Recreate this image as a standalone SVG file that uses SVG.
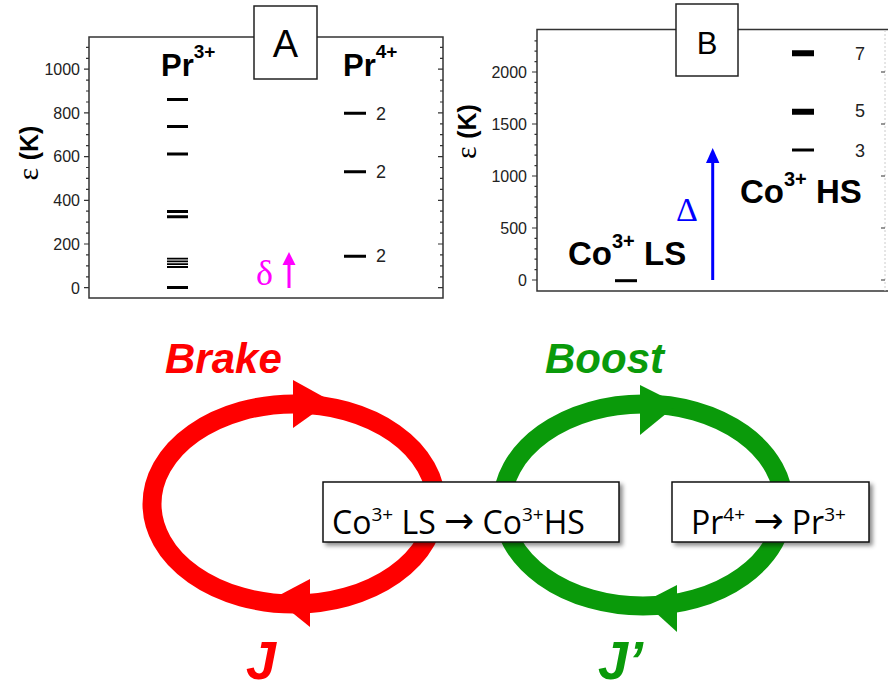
<svg xmlns="http://www.w3.org/2000/svg" width="888" height="691" viewBox="0 0 888 691">
<defs>
<style>
.ax{fill:none;stroke:#333;stroke-width:1.5}
.tk{fill:none;stroke:#333;stroke-width:1.2}
.tl{font-family:"Liberation Sans",Arial,sans-serif;font-size:16px;fill:#222;text-anchor:end}
.lv{stroke:#000;stroke-width:3}
.lab{font-family:"Liberation Sans",Arial,sans-serif;font-weight:bold;fill:#000}
.deg{font-family:"Liberation Sans",Arial,sans-serif;font-size:18px;fill:#222}
.box{fill:#fff;stroke:#222;stroke-width:1.5}
.nb{fill:#fff;stroke:#111;stroke-width:1.5}
.bt{font-family:"Open Sans","Noto Sans",sans-serif;font-size:32px;fill:#000}
.ar{font-family:"DejaVu Sans",sans-serif;font-size:36px}
.big{font-family:"Liberation Sans",Arial,sans-serif;font-weight:bold;font-style:italic}
</style>
<filter id="sh" x="-10%" y="-20%" width="130%" height="160%">
<feDropShadow dx="3" dy="3" stdDeviation="2" flood-color="#000" flood-opacity="0.45"/>
</filter>
</defs>
<rect width="888" height="691" fill="#fff"/>

<!-- Panel A -->
<g id="panelA">
<rect class="ax" x="89" y="37" width="354" height="261"/>
<path class="tk" d="M84 287.7H89M84 244H89M84 200.3H89M84 156.6H89M84 112.9H89M84 69.2H89
M86 276.8H89M86 265.9H89M86 254.9H89M86 233.1H89M86 222.2H89M86 211.2H89M86 189.4H89M86 178.4H89M86 167.5H89M86 145.7H89M86 134.7H89M86 123.8H89M86 102H89M86 91H89M86 80.1H89M86 58.3H89M86 47.3H89"/>
<path class="tk" d="M438 287.7H443M438 244H443M438 200.3H443M438 156.6H443M438 112.9H443M438 69.2H443
M440 276.8H443M440 265.9H443M440 254.9H443M440 233.1H443M440 222.2H443M440 211.2H443M440 189.4H443M440 178.4H443M440 167.5H443M440 145.7H443M440 134.7H443M440 123.8H443M440 102H443M440 91H443M440 80.1H443M440 58.3H443M440 47.3H443"/>
<text class="tl" x="80" y="293.5">0</text>
<text class="tl" x="80" y="249.8">200</text>
<text class="tl" x="80" y="206.1">400</text>
<text class="tl" x="80" y="162.4">600</text>
<text class="tl" x="80" y="118.7">800</text>
<text class="tl" x="80" y="75">1000</text>
<text transform="translate(38,153) rotate(-90)" text-anchor="middle" font-family="Liberation Sans,Arial,sans-serif" font-size="25" fill="#000"><tspan font-family="Liberation Serif,serif" font-size="30">ε </tspan><tspan font-weight="bold">(K)</tspan></text>
<g id="pr3levels">
<path class="lv" d="M167 99.5H188M167 126.5H188M167 154H188M167 211.5H188M167 216.8H188M167 287.5H188"/>
<path stroke="#000" stroke-width="1.8" d="M167 258.6H188M167 261.4H188M167 264.2H188M167 267H188"/>
</g>
<g id="pr4levels">
<path class="lv" d="M344 113.3H366M344 171.8H366M344 256.3H366"/>
<text class="deg" x="376" y="120">2</text>
<text class="deg" x="376" y="178">2</text>
<text class="deg" x="376" y="262">2</text>
</g>
<text class="lab" x="161" y="76" font-size="31">Pr<tspan font-size="19" dy="-18">3+</tspan></text>
<text class="lab" x="343" y="76" font-size="31">Pr<tspan font-size="19" dy="-18">4+</tspan></text>
<g id="boxA">
<rect class="box" x="254" y="6" width="63" height="73"/>
<text x="285.5" y="57" text-anchor="middle" font-family="Liberation Sans,Arial,sans-serif" font-size="38" fill="#000">A</text>
</g>
<g id="delta">
<text x="256" y="285" font-family="Liberation Serif,Times New Roman,serif" font-size="36" fill="#ff00ff">δ</text>
<path d="M289 288V262" stroke="#ff00ff" stroke-width="3"/>
<polygon points="282.5,265 295.5,265 289,252" fill="#ff00ff"/>
</g>
</g>

<!-- Panel B -->
<g id="panelB">
<path class="ax" d="M888 29.5H537V291H888"/>
<path d="M885 30V291" stroke="#ccc" stroke-width="1" stroke-dasharray="2 2"/>
<path class="tk" d="M532 280H537M532 228H537M532 176H537M532 124H537M532 72H537
M534.5 269.6H537M534.5 259.2H537M534.5 248.8H537M534.5 238.4H537M534.5 217.6H537M534.5 207.2H537M534.5 196.8H537M534.5 186.4H537M534.5 165.6H537M534.5 155.2H537M534.5 144.8H537M534.5 134.4H537M534.5 113.6H537M534.5 103.2H537M534.5 92.8H537M534.5 82.4H537M534.5 61.6H537M534.5 51.2H537M534.5 40.8H537"/>
<path class="tk" d="M881 280H885M881 228H885M881 176H885M881 124H885M881 72H885"/>
<text class="tl" x="527" y="285.8">0</text>
<text class="tl" x="527" y="233.8">500</text>
<text class="tl" x="527" y="181.8">1000</text>
<text class="tl" x="527" y="129.8">1500</text>
<text class="tl" x="527" y="77.8">2000</text>
<text transform="translate(476,131.5) rotate(-90)" text-anchor="middle" font-family="Liberation Sans,Arial,sans-serif" font-size="25" fill="#000"><tspan font-family="Liberation Serif,serif" font-size="30">ε </tspan><tspan font-weight="bold">(K)</tspan></text>
<g id="hslevels">
<path stroke="#000" stroke-width="6" d="M792 53.3H814M792 111.8H814"/>
<path class="lv" d="M792 150H814"/>
<text class="deg" x="855" y="60">7</text>
<text class="deg" x="855" y="117">5</text>
<text class="deg" x="855" y="157">3</text>
</g>
<path class="lv" d="M615 280.7H637"/>
<text class="lab" x="740" y="203" font-size="33">Co<tspan font-size="20" dy="-17">3+</tspan><tspan dy="17"> HS</tspan></text>
<text class="lab" x="568" y="265" font-size="33">Co<tspan font-size="20" dy="-17">3+</tspan><tspan dy="17"> LS</tspan></text>
<g id="bigdelta">
<text x="676" y="221" font-family="Liberation Serif,Times New Roman,serif" font-size="34" fill="#0000ff">Δ</text>
<path d="M712.7 280V160" stroke="#0000ff" stroke-width="3"/>
<polygon points="706,163 719.4,163 712.7,148" fill="#0000ff"/>
</g>
<g id="boxB">
<rect class="box" x="676" y="4" width="62" height="72"/>
<text x="707" y="54" text-anchor="middle" font-family="Liberation Sans,Arial,sans-serif" font-size="31" fill="#000">B</text>
</g>
</g>

<!-- Loops (connectors) -->
<g id="connectors">
<ellipse cx="294" cy="504" rx="142" ry="100" fill="none" stroke="#ff0000" stroke-width="19"/>
<polygon points="293,380 293,428 331,401" fill="#ff0000"/>
<polygon points="310,579 310,627 274,598" fill="#ff0000"/>
<ellipse cx="643" cy="505" rx="141" ry="101" fill="none" stroke="#0a9a0a" stroke-width="19"/>
<polygon points="640,385 640,435 678,404" fill="#0a9a0a"/>
<polygon points="677,585 677,632 644,602" fill="#0a9a0a"/>
</g>

<g id="brake"><text class="big" x="165" y="373" font-size="42" fill="#ff0000">Brake</text></g>
<g id="boost"><text class="big" x="545" y="373" font-size="42" fill="#0a9a0a">Boost</text></g>
<g id="J"><text class="big" x="246" y="679" font-size="54" fill="#ff0000">J</text></g>
<g id="Jp"><text class="big" x="598" y="679" font-size="54" fill="#0a9a0a">J’</text></g>

<g id="cobox">
<rect class="nb" x="323" y="482" width="296" height="60" filter="url(#sh)"/>
<text class="bt" x="332" y="534">Co<tspan font-size="19" dy="-13">3+</tspan><tspan dy="13"> LS </tspan><tspan class="ar" dy="-1">→</tspan><tspan dy="1"> Co</tspan><tspan font-size="19" dy="-13">3+</tspan><tspan dy="13">HS</tspan></text>
</g>
<g id="prbox">
<rect class="nb" x="672" y="482" width="197" height="60" filter="url(#sh)"/>
<text class="bt" x="691" y="534">Pr<tspan font-size="19" dy="-13">4+</tspan><tspan dy="13"> </tspan><tspan class="ar" dy="-1">→</tspan><tspan dy="1"> Pr</tspan><tspan font-size="19" dy="-13">3+</tspan></text>
</g>
</svg>
